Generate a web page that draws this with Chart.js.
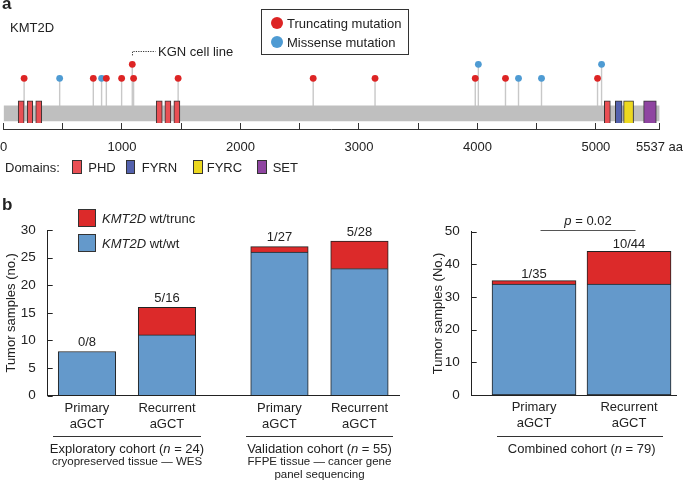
<!DOCTYPE html>
<html><head><meta charset="utf-8">
<script src="https://cdn.jsdelivr.net/npm/chart.js@4.4.1/dist/chart.umd.min.js"></script>
<style>
html,body{margin:0;padding:0;background:#fff;}
body{width:685px;height:482px;position:relative;overflow:hidden;font-family:"Liberation Sans",Arial,Helvetica,sans-serif;color:#222;}
canvas{position:absolute;}
.t{position:absolute;white-space:nowrap;font-size:13px;line-height:1;}
.c{transform:translate(-50%,-50%);}
.l{transform:translateY(-50%);}
.s{font-size:11.5px;}
.bold{font-weight:bold;font-size:17px;}
.hl{position:absolute;height:0;border-top:1px solid #333;}
.box{position:absolute;box-sizing:border-box;border:1px solid #333;}
.dot{position:absolute;width:12px;height:12px;border-radius:50%;transform:translate(-50%,-50%);}
</style>
</head><body>
<canvas id="ca" width="685" height="160" style="left:0;top:0"></canvas>
<canvas id="cb" width="410" height="292" style="left:0;top:190px"></canvas>
<canvas id="cc" width="265" height="292" style="left:420px;top:190px"></canvas>

<!-- panel a texts -->
<div class="t l bold" style="left:2px;top:3px">a</div>
<div class="t l" style="left:10px;top:27px">KMT2D</div>
<div class="box" style="left:261px;top:9px;width:148px;height:46px"></div>
<div class="dot" style="left:276.7px;top:22.7px;background:#dd2424"></div>
<div class="dot" style="left:276.7px;top:42px;background:#4e9bd3"></div>
<div class="t l" style="left:287px;top:22.7px">Truncating mutation</div>
<div class="t l" style="left:287px;top:42px">Missense mutation</div>

<div class="t l" style="left:5px;top:167px">Domains:</div>
<div class="box" style="left:72.3px;top:160px;width:9.6px;height:14px;background:#e94f54"></div>
<div class="t l" style="left:88.3px;top:167px">PHD</div>
<div class="box" style="left:125.7px;top:160px;width:9.6px;height:14px;background:#5361ad"></div>
<div class="t l" style="left:141.7px;top:167px">FYRN</div>
<div class="box" style="left:193.3px;top:160px;width:9.6px;height:14px;background:#ecd81f"></div>
<div class="t l" style="left:206.7px;top:167px">FYRC</div>
<div class="box" style="left:257.3px;top:160px;width:9.6px;height:14px;background:#8f45a1"></div>
<div class="t l" style="left:272.7px;top:167px">SET</div>

<!-- panel b texts -->
<div class="t l bold" style="left:2px;top:204px">b</div>
<div class="box" style="left:77.7px;top:209px;width:18.5px;height:17.5px;background:#dc2a2a"></div>
<div class="box" style="left:77.7px;top:234.3px;width:18.5px;height:17.5px;background:#6499cb"></div>
<div class="t l" style="left:102px;top:217.5px"><i>KMT2D</i> wt/trunc</div>
<div class="t l" style="left:102px;top:243px"><i>KMT2D</i> wt/wt</div>

<div class="hl" style="left:53px;top:436px;width:148px"></div>
<div class="t c" style="left:127px;top:448px">Exploratory cohort (<i>n</i> = 24)</div>
<div class="t c s" style="left:127px;top:461.7px">cryopreserved tissue — WES</div>
<div class="hl" style="left:246px;top:436px;width:147px"></div>
<div class="t c" style="left:319.5px;top:448px">Validation cohort (<i>n</i> = 55)</div>
<div class="t c s" style="left:319.5px;top:462px">FFPE tissue — cancer gene</div>
<div class="t c s" style="left:319.5px;top:475px">panel sequencing</div>
<div class="hl" style="left:497px;top:436px;width:166px"></div>
<div class="t c" style="left:581.7px;top:448px">Combined cohort (<i>n</i> = 79)</div>

<script>
// ---------------- Panel a data ----------------
const proteinLength = 5537;
const mutationPos   = [174, 474, 758, 828, 868, 997, 1087, 1098, 1474, 2614, 3136, 3982, 4008, 4237, 4347, 4541, 5014, 5048];
const mutationType  = ['trunc','missense','trunc','missense','trunc','trunc','trunc','trunc','trunc','trunc','trunc','trunc','missense','trunc','missense','missense','trunc','missense'];
const mutationLevel = [1, 1, 1, 1, 1, 1, 2, 1, 1, 1, 1, 1, 2, 1, 1, 1, 1, 2];
const mutationNote  = ['', '', '', '', '', '', 'KGN cell line', '', '', '', '', '', '', '', '', '', '', ''];
const domainType  = ['PHD','PHD','PHD','PHD','PHD','PHD','PHD','FYRN','FYRC','SET'];
const domainStart = [124, 200, 272, 1289, 1362, 1438, 5071, 5164, 5234, 5403];
const domainEnd   = [174, 247, 323, 1340, 1413, 1489, 5122, 5221, 5318, 5510];
const aaTicks = [0, 500, 1000, 1500, 2000, 2500, 3000, 3500, 4000, 4500, 5000, 5537];

// ---------------- Panel b data ----------------
const cohortCategories = [['Primary','aGCT'], ['Recurrent','aGCT'], ['Primary','aGCT'], ['Recurrent','aGCT']];
const cohortGroup = [0, 0, 1, 1];
const wtwtCounts  = [8, 11, 26, 23];
const truncCounts = [0, 5, 1, 5];
const combinedCategories = [['Primary','aGCT'], ['Recurrent','aGCT']];
const combinedWtwt  = [34, 34];
const combinedTrunc = [1, 10];
const pValueText = '0.02';

// ---------------- styles ----------------
const MUT_COLORS = {trunc:'#dd2424', missense:'#4e9bd3'};
const DOMAIN_COLORS = {PHD:'#e94f54', FYRN:'#5361ad', FYRC:'#ecd81f', SET:'#8f45a1'};
const RED = '#dc2a2a', BLUE = '#6499cb', EDGE = '#222';
const HEAD_BASE = 1.5;     // stem height (in level units) below level 1
const GROUP_STEP = 2.406;  // spacing between cohort groups on x
const FONT = '"Liberation Sans", Arial, Helvetica, sans-serif';

Chart.defaults.font.family = FONT;
Chart.defaults.font.size = 13;
Chart.defaults.color = '#222';

// ---------------- Panel a ----------------
const headY = (i) => HEAD_BASE + mutationLevel[i];
const stemSets = mutationPos.map((p, i) => ({
  type:'scatter', showLine:true, order:3,
  data:[{x:p, y:0}, {x:p, y:headY(i)}],
  borderColor:'#c8c8c8', borderWidth:1.4, pointRadius:0, pointHoverRadius:0
}));
const headSet = (kind) => ({
  type:'scatter', order:0,
  data: mutationPos.map((p, i) => ({x:p, y:headY(i)})).filter((_, i) => mutationType[i] === kind),
  pointRadius:3.4, pointHoverRadius:3.4, pointBackgroundColor:MUT_COLORS[kind], pointBorderWidth:0
});

const panelAPlugin = {
  id:'panelA',
  afterDatasetsDraw(chart){
    const {ctx, chartArea, scales:{x, y}} = chart;
    ctx.save();
    const ly = Math.round(chartArea.bottom + 7) - 0.5;
    ctx.strokeStyle = '#333'; ctx.lineWidth = 1;
    ctx.beginPath();
    ctx.moveTo(x.getPixelForValue(0) - 0.5, ly);
    ctx.lineTo(x.getPixelForValue(proteinLength) + 0.5, ly);
    ctx.stroke();
    mutationNote.forEach((note, i) => {
      if (!note) return;
      const px = Math.round(x.getPixelForValue(mutationPos[i])) + 0.5;
      const py = y.getPixelForValue(headY(i));
      const yTop = Math.round(py - 13.3) + 0.5;
      ctx.setLineDash([1.2, 1.2]);
      ctx.strokeStyle = '#333';
      ctx.beginPath();
      ctx.moveTo(px, py - 9); ctx.lineTo(px, yTop); ctx.lineTo(px + 23, yTop);
      ctx.stroke();
      ctx.setLineDash([]);
      ctx.fillStyle = '#222'; ctx.font = '13px ' + FONT;
      ctx.textAlign = 'left'; ctx.textBaseline = 'middle';
      ctx.fillText(note, px + 25.5, yTop + 0.5);
    });
    ctx.restore();
  }
};

new Chart(document.getElementById('ca'), {
  type:'scatter',
  data:{datasets:[
    headSet('trunc'),
    headSet('missense'),
    {type:'bar', indexAxis:'y', order:1, stack:'p',
     data: domainStart.map((s, i) => ({x:[s, domainEnd[i]], y:0})),
     backgroundColor: domainType.map(d => DOMAIN_COLORS[d]),
     borderColor:'#333', borderWidth:1, borderSkipped:false, barThickness:25},
    {type:'bar', indexAxis:'y', order:2, stack:'p',
     data:[{x:[0, proteinLength], y:0}],
     backgroundColor:'#bfbfbf', borderWidth:0, barThickness:15},
    ...stemSets
  ]},
  options:{
    responsive:false, animation:false, devicePixelRatio:1,
    layout:{padding:{top:50, left:3.5, right:25.5, bottom:0}},
    plugins:{legend:{display:false}, tooltip:{enabled:false}},
    scales:{
      x:{type:'linear', min:0, max:proteinLength, stacked:false, offset:false,
         afterBuildTicks:(s) => { s.ticks = aaTicks.map(v => ({value:v})); },
         afterFit:(s) => { s.height = 37; s.paddingLeft = 0; s.paddingRight = 0; },
         ticks:{autoSkip:false, maxRotation:0, padding:10, color:'#222', font:{size:13},
                callback:(v) => v === proteinLength ? v + ' aa' : (v % 1000 === 0 ? String(v) : '')},
         grid:{drawOnChartArea:false, drawTicks:true, tickLength:7, color:'#333', lineWidth:1, offset:false},
         border:{display:false}},
      y:{type:'linear', display:false, min:-0.689, max:4.525, offset:false, grid:{offset:false}}
    }
  },
  plugins:[panelAPlugin]
});

// ---------------- Panel b helpers ----------------
const barLabelsPlugin = {
  id:'barLabels',
  afterDatasetsDraw(chart, args, opts){
    const {ctx, chartArea, scales:{x, y}} = chart;
    const base = chart.data.datasets[0].data, top = chart.data.datasets[1].data;
    ctx.save();
    ctx.font = '13px ' + FONT; ctx.fillStyle = '#222';
    ctx.textAlign = 'center'; ctx.textBaseline = 'alphabetic';
    base.forEach((pt, i) => {
      const total = pt.y + top[i].y;
      ctx.fillText(top[i].y + '/' + total, x.getPixelForValue(pt.x), y.getPixelForValue(total) - opts.gap);
    });
    ctx.strokeStyle = '#222'; ctx.lineWidth = 1;
    y.ticks.forEach((t, i) => {
      const py = Math.round(y.getPixelForTick(i)) + 0.5;
      ctx.beginPath(); ctx.moveTo(chartArea.left, py); ctx.lineTo(chartArea.left + 5, py); ctx.stroke();
    });
    if (opts.pText) {
      const x0 = x.getPixelForValue(base[0].x) + 6.5, x1 = x.getPixelForValue(base[1].x) + 6.5;
      const ly = Math.round(chartArea.top - 2) + 0.5;
      ctx.strokeStyle = '#555';
      ctx.beginPath(); ctx.moveTo(x0, ly); ctx.lineTo(x1, ly); ctx.stroke();
      const runs = [['p', true], [' = ' + opts.pText, false]];
      const fontOf = (it) => (it ? 'italic ' : '') + '13px ' + FONT;
      let w = 0;
      runs.forEach(r => { ctx.font = fontOf(r[1]); w += ctx.measureText(r[0]).width; });
      let cx = (x0 + x1) / 2 - w / 2;
      ctx.textAlign = 'left'; ctx.textBaseline = 'middle';
      runs.forEach(r => { ctx.font = fontOf(r[1]); ctx.fillText(r[0], cx, ly - 9); cx += ctx.measureText(r[0]).width; });
    }
    ctx.restore();
  }
};

function stackedBarChart(canvasId, cfg){
  return new Chart(document.getElementById(canvasId), {
    type:'bar',
    data:{datasets:[
      {label:'KMT2D wt/wt', stack:'s', data: cfg.base.map((v, i) => ({x:cfg.xPos[i], y:v})),
       backgroundColor:BLUE, borderColor:EDGE, borderWidth:1, borderSkipped:false, barThickness:cfg.barW},
      {label:'KMT2D wt/trunc', stack:'s', data: cfg.top.map((v, i) => ({x:cfg.xPos[i], y:v})),
       backgroundColor:RED, borderColor:EDGE, borderWidth:{top:1, left:1, right:1, bottom:0}, borderSkipped:false, barThickness:cfg.barW}
    ]},
    options:{
      responsive:false, animation:false, devicePixelRatio:1,
      layout:{padding:cfg.padding},
      plugins:{legend:{display:false}, tooltip:{enabled:false}, barLabels:{gap:cfg.gap, pText:cfg.pText}},
      scales:{
        x:{type:'linear', min:cfg.xMin, max:cfg.xMax, offset:false,
           afterBuildTicks:(s) => { s.ticks = cfg.xPos.map(v => ({value:v})); },
           afterFit:(s) => { s.height = cfg.xHeight; s.paddingLeft = 0; s.paddingRight = 0; },
           ticks:{autoSkip:false, maxRotation:0, padding:-3, color:'#222', font:{size:13, lineHeight:1.2},
                  callback:(v, i) => cfg.labels[i]},
           grid:{display:false, offset:false}, border:{display:true, color:EDGE, width:1}},
        y:{stacked:true, min:0, max:cfg.yMax,
           afterFit:(s) => { s.width = cfg.yWidth; },
           ticks:{stepSize:cfg.yStep, padding:4, color:'#222', font:{size:13.5}},
           grid:{display:false}, border:{display:true, color:EDGE, width:1},
           title:{display:true, text:cfg.yTitle, color:'#222', font:{size:13}, padding:{top:4, bottom:0}}}
      }
    },
    plugins:[barLabelsPlugin]
  });
}

const withinGroup = cohortGroup.map((g, i) => i - cohortGroup.indexOf(g));
const xPosLeft = cohortGroup.map((g, i) => g * GROUP_STEP + withinGroup[i]);
stackedBarChart('cb', {
  base:wtwtCounts, top:truncCounts, labels:cohortCategories, xPos:xPosLeft,
  xMin:-0.491, xMax:3.904, barW:57.5, yMax:30, yStep:5, yWidth:47.7, xHeight:86.3,
  padding:{top:40, left:0, right:10.7, bottom:0}, gap:5.5, yTitle:'Tumor samples (no.)'
});

const xPosRight = combinedCategories.map((_, i) => i);
stackedBarChart('cc', {
  base:combinedWtwt, top:combinedTrunc, labels:combinedCategories, xPos:xPosRight,
  xMin:-0.656, xMax:1.502, barW:84, yMax:50, yStep:10, yWidth:45.5, xHeight:87,
  padding:{top:41.7, left:6.2, right:8.3, bottom:0}, gap:3, yTitle:'Tumor samples (No.)', pText:pValueText
});
</script>
</body></html>
